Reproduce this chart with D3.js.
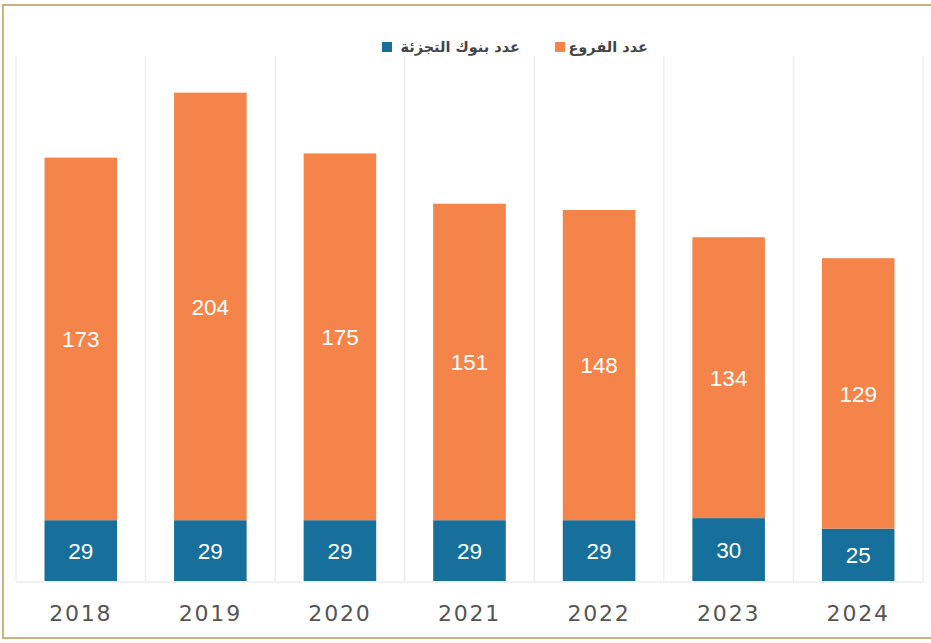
<!DOCTYPE html>
<html>
<head>
<meta charset="utf-8">
<script src="https://cdn.jsdelivr.net/npm/d3@7"></script>
<style>
    body { margin: 0; background: #fff; }
    svg { display: block; }
</style>
</head>
<body>
<svg id="drawing_region"></svg>
<script>
// data
const years = ['2018', '2019', '2020', '2021', '2022', '2023', '2024'];
const banks = [29, 29, 29, 29, 29, 30, 25];          // عدد بنوك التجزئة
const branches = [173, 204, 175, 151, 148, 134, 129]; // عدد الفروع
const seriesNames = ['عدد بنوك التجزئة', 'عدد الفروع'];
const seriesColors = ['#16709b', '#f4844a'];

const width = 931, height = 643;
const margin = {top: 57, right: 8, bottom: 62, left: 16};
const inner_width = 923 - margin.left;
const inner_height = height - margin.top - margin.bottom;

const svg = d3.select('#drawing_region')
    .attr('width', width)
    .attr('height', height);

// frame
svg.append('rect')
    .attr('x', 3).attr('y', 5)
    .attr('width', width + 10).attr('height', 633)
    .attr('fill', 'none')
    .attr('stroke', '#c9b27c')
    .attr('stroke-width', 2);

const chart = svg.append('g')
    .attr('transform', `translate(${margin.left}, ${margin.top})`);

const xscale = d3.scaleBand()
    .domain(years)
    .range([0, inner_width])
    .paddingInner(0.44)
    .paddingOuter(0.22);

const yscale = d3.scaleLinear()
    .domain([0, 250])
    .range([inner_height, 0]);

// vertical grid lines between categories
const gridPos = d3.range(years.length + 1).map(i => i * (inner_width / years.length));
chart.selectAll('line.grid').data(gridPos)
    .join('line')
    .attr('class', 'grid')
    .attr('x1', d => d).attr('x2', d => d)
    .attr('y1', -1).attr('y2', inner_height)
    .attr('stroke', '#eeeeee')
    .attr('stroke-width', 1.5);

// baseline
chart.append('line')
    .attr('x1', 0).attr('x2', inner_width)
    .attr('y1', inner_height + 1).attr('y2', inner_height + 1)
    .attr('stroke', '#ececec')
    .attr('stroke-width', 1.5);

const data = years.map((y, i) => ({year: y, banks: banks[i], branches: branches[i]}));
const stacked = d3.stack().keys(['banks', 'branches'])(data);

const layers = chart.selectAll('g.layer').data(stacked)
    .join('g')
    .attr('class', 'layer')
    .attr('fill', (d, i) => seriesColors[i]);

layers.selectAll('rect').data(d => d)
    .join('rect')
    .attr('x', d => xscale(d.data.year))
    .attr('y', d => yscale(d[1]))
    .attr('width', xscale.bandwidth())
    .attr('height', d => yscale(d[0]) - yscale(d[1]));

layers.selectAll('text').data(d => d)
    .join('text')
    .attr('x', d => xscale(d.data.year) + xscale.bandwidth() / 2)
    .attr('y', d => (yscale(d[0]) + yscale(d[1])) / 2)
    .attr('dy', '0.36em')
    .attr('text-anchor', 'middle')
    .attr('fill', '#ffffff')
    .style('font-family', '"Liberation Sans", Arial, sans-serif')
    .style('font-size', '22.5px')
    .text(d => d[1] - d[0]);

// x axis
const xaxis = d3.axisBottom(xscale).tickSize(0).tickPadding(0);
const xaxis_group = chart.append('g')
    .attr('transform', `translate(0, ${inner_height})`)
    .call(xaxis);
xaxis_group.select('.domain').remove();
xaxis_group.selectAll('text')
    .attr('y', 32)
    .attr('dy', '0.36em')
    .attr('fill', '#555555')
    .style('font-family', '"DejaVu Sans", sans-serif')
    .style('font-size', '22px')
    .style('letter-spacing', '1.8px');

// legend
const legend = svg.append('g');
const legendItems = [
    {name: seriesNames[0], color: seriesColors[0], sx: 382, tx: 520},
    {name: seriesNames[1], color: seriesColors[1], sx: 555, tx: 648}
];
legendItems.forEach(d => {
    legend.append('rect')
        .attr('x', d.sx).attr('y', 42)
        .attr('width', 10).attr('height', 10)
        .attr('fill', d.color);
    legend.append('text')
        .attr('x', d.tx).attr('y', 47)
        .attr('dy', '0.35em')
        .attr('text-anchor', 'end')
        .attr('fill', '#444444')
        .style('font-family', '"DejaVu Sans", sans-serif')
        .style('font-size', '14.5px')
        .style('font-weight', 'bold')
        .text(d.name);
});
</script>
</body>
</html>
